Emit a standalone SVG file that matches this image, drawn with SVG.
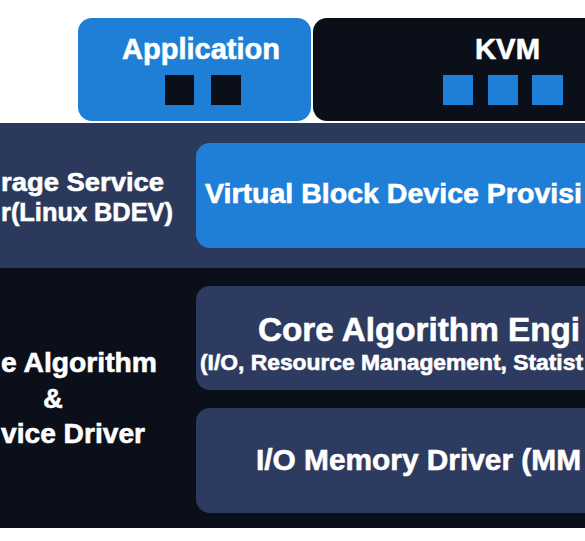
<svg xmlns="http://www.w3.org/2000/svg" width="585" height="541" viewBox="0 0 585 541">
  <style>
    .t { font-family: "Liberation Sans", Arial, sans-serif; font-weight: bold; fill: #ffffff; stroke: #ffffff; stroke-width: 0.6; }
    .blue { fill: #1f7fd6; }
    .dark { fill: #0b0f19; }
    .navy { fill: #2b3a5c; }
    .inner { fill: #2d3b60; }
  </style>
  <rect x="0" y="0" width="585" height="541" fill="#ffffff"/>
  <g id="band-top">
    <rect class="navy" x="0" y="123" width="585" height="145"/>
    <text class="t" x="1" y="191" font-size="26" textLength="163" lengthAdjust="spacingAndGlyphs">rage Service</text>
    <text class="t" x="1" y="221" font-size="26" textLength="172" lengthAdjust="spacingAndGlyphs">r(Linux BDEV)</text>
  </g>
  <g id="band-bottom">
    <rect class="dark" x="0" y="268" width="585" height="260"/>
    <text class="t" x="1" y="372" font-size="27" textLength="156" lengthAdjust="spacingAndGlyphs">e Algorithm</text>
    <text class="t" x="53" y="408" font-size="27" text-anchor="middle">&amp;</text>
    <text class="t" x="1" y="443" font-size="27" textLength="144" lengthAdjust="spacingAndGlyphs">vice Driver</text>
  </g>
  <g id="application">
    <rect class="blue" x="78" y="18" width="233" height="103" rx="14"/>
    <text class="t" x="122" y="59" font-size="29" textLength="158" lengthAdjust="spacingAndGlyphs">Application</text>
    <rect class="dark" x="165" y="75" width="29" height="30"/>
    <rect class="dark" x="211" y="75" width="30" height="30"/>
  </g>
  <g id="kvm">
    <rect class="dark" x="313" y="18" width="300" height="103" rx="14"/>
    <text class="t" x="475" y="59" font-size="29" textLength="65" lengthAdjust="spacingAndGlyphs">KVM</text>
    <rect class="blue" x="443" y="75" width="30" height="30"/>
    <rect class="blue" x="488" y="75" width="30" height="30"/>
    <rect class="blue" x="532" y="75" width="31" height="30"/>
  </g>
  <g id="virtual-block">
    <rect class="blue" x="196" y="143" width="420" height="105" rx="14"/>
    <text class="t" x="205" y="203" font-size="28.5" textLength="377" lengthAdjust="spacingAndGlyphs">Virtual Block Device Provisi</text>
  </g>
  <g id="core-engine">
    <rect class="inner" x="196" y="286" width="420" height="104" rx="14"/>
    <text class="t" x="258" y="341" font-size="33" textLength="322" lengthAdjust="spacingAndGlyphs">Core Algorithm Engi</text>
    <text class="t" x="200" y="370" font-size="22" textLength="383" lengthAdjust="spacingAndGlyphs">(I/O, Resource Management, Statist</text>
  </g>
  <g id="io-memory">
    <rect class="inner" x="196" y="408" width="420" height="105" rx="14"/>
    <text class="t" x="256" y="470" font-size="30" textLength="325" lengthAdjust="spacingAndGlyphs">I/O Memory Driver (MM</text>
  </g>
  <g id="connectors"></g>
</svg>
